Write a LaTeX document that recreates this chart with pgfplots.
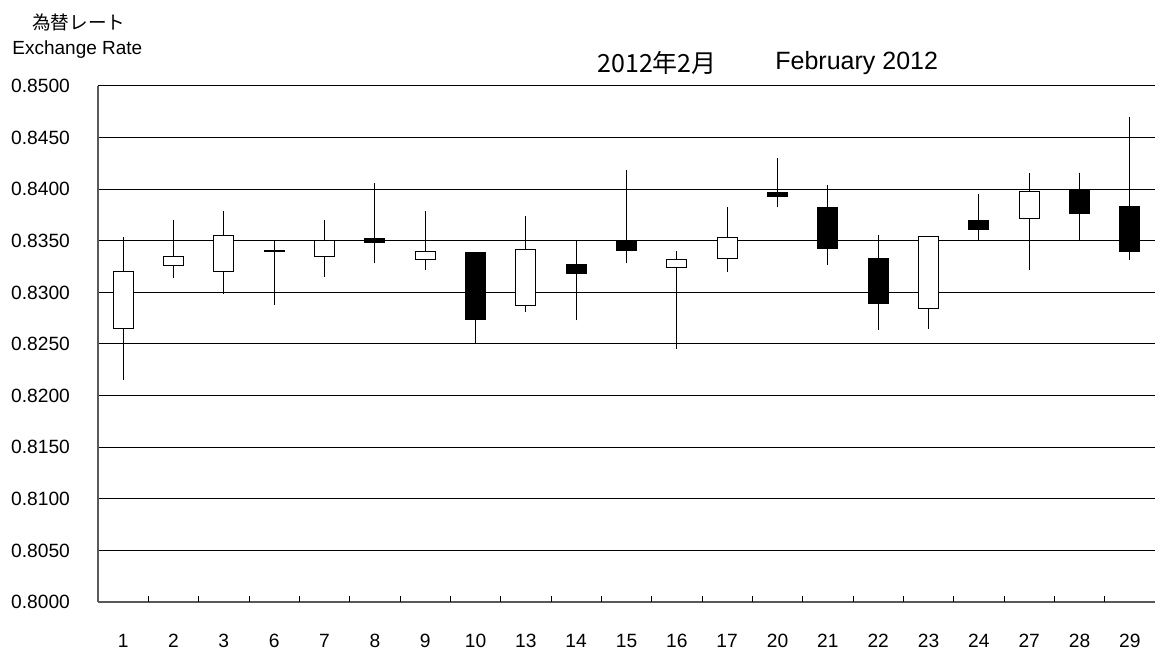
\documentclass[border=0pt]{standalone}
\usepackage{pgfplots}
\pgfplotsset{compat=1.18}
\usepgfplotslibrary{statistics}
\usepackage{fontspec}
\setmainfont{Liberation Sans}
\newfontfamily\cjk{Noto Sans CJK JP}
\pgfplotsset{
  candle/.style={solid, draw=black, line width=0.5pt, mark=none,
    boxplot/draw direction=y, boxplot/box extend=0.4, boxplot/whisker extend=0},
}
% #1 position, #2 low, #3 body bottom, #4 body top, #5 high, #6 fill
\newcommand{\candle}[6]{%
  \addplot[candle, fill=#6, boxplot/every box/.style={fill=#6},
    boxplot prepared={draw position=#1, lower whisker=#2, lower quartile=#3,
      median=#3, upper quartile=#4, upper whisker=#5}] coordinates {};}
\begin{document}
\begin{tikzpicture}
\useasboundingbox (-49pt,-24.5pt) rectangle (528.5pt,301pt);
\begin{axis}[
  at={(0,0)}, anchor=south west,
  scale only axis, width=528.5pt, height=258pt,
  xmin=-0.5, xmax=20.5, ymin=0.8, ymax=0.85,
  axis x line*=bottom, axis y line*=left,
  axis line style={draw=black!65, line width=1pt},
  tick align=inside,
  major tick length=0pt,
  ytick={0.800,0.805,0.810,0.815,0.820,0.825,0.830,0.835,0.840,0.845,0.850},
  ymajorgrids, grid style={black, line width=0.5pt},
  /pgf/number format/assume math mode=true,
  yticklabel style={/pgf/number format/.cd, fixed, fixed zerofill, precision=4, /tikz/.cd,
    font=\fontsize{9.6pt}{11pt}\selectfont, xshift=-10.5pt},
  xtick={0,...,20},
  xticklabels={1,2,3,6,7,8,9,10,13,14,15,16,17,20,21,22,23,24,27,28,29},
  xticklabel style={font=\fontsize{9.6pt}{11pt}\selectfont, yshift=-12.5pt},
  extra x ticks={0.5,1.5,2.5,3.5,4.5,5.5,6.5,7.5,8.5,9.5,10.5,11.5,12.5,13.5,14.5,15.5,16.5,17.5,18.5,19.5},
  extra x tick labels={},
  extra x tick style={major tick length=3pt, tick style={black, line width=0.5pt}},
  clip=false,
]
\candle{0}{0.8215}{0.8265}{0.8320}{0.8354}{white}
\candle{1}{0.8314}{0.8326}{0.8335}{0.8370}{white}
\candle{2}{0.8298}{0.8320}{0.8355}{0.8379}{white}
\candle{3}{0.8288}{0.8340}{0.8341}{0.8350}{black}
\candle{4}{0.8315}{0.8335}{0.8350}{0.8370}{white}
\candle{5}{0.8328}{0.8348}{0.8352}{0.8406}{black}
\candle{6}{0.8322}{0.8332}{0.8340}{0.8379}{white}
\candle{7}{0.8250}{0.8274}{0.8339}{0.8339}{black}
\candle{8}{0.8281}{0.8287}{0.8342}{0.8374}{white}
\candle{9}{0.8273}{0.8318}{0.8327}{0.8350}{black}
\candle{10}{0.8328}{0.8341}{0.8350}{0.8419}{black}
\candle{11}{0.8245}{0.8324}{0.8332}{0.8340}{white}
\candle{12}{0.8320}{0.8333}{0.8353}{0.8383}{white}
\candle{13}{0.8383}{0.8393}{0.8397}{0.8430}{black}
\candle{14}{0.8327}{0.8343}{0.8382}{0.8404}{black}
\candle{15}{0.8264}{0.8289}{0.8333}{0.8356}{black}
\candle{16}{0.8265}{0.8284}{0.8354}{0.8355}{white}
\candle{17}{0.8350}{0.8361}{0.8370}{0.8395}{black}
\candle{18}{0.8322}{0.8372}{0.8398}{0.8416}{white}
\candle{19}{0.8350}{0.8376}{0.8399}{0.8416}{black}
\candle{20}{0.8331}{0.8340}{0.8383}{0.8470}{black}
\end{axis}
\node[anchor=west, inner sep=0pt, font=\cjk\fontsize{9.3pt}{11pt}\selectfont] at (-33pt,290pt) {為替レート};
\node[anchor=west, inner sep=0pt, font=\fontsize{9.5pt}{11pt}\selectfont] at (-43pt,276pt) {Exchange Rate};
\node[anchor=west, inner sep=0pt, font=\cjk\fontsize{12.5pt}{14pt}\selectfont] at (249.5pt,269.5pt) {2012年2月};
\node[anchor=west, inner sep=0pt, font=\fontsize{12.5pt}{14pt}\selectfont] at (338.5pt,269.5pt) {February 2012};
\end{tikzpicture}
\end{document}
